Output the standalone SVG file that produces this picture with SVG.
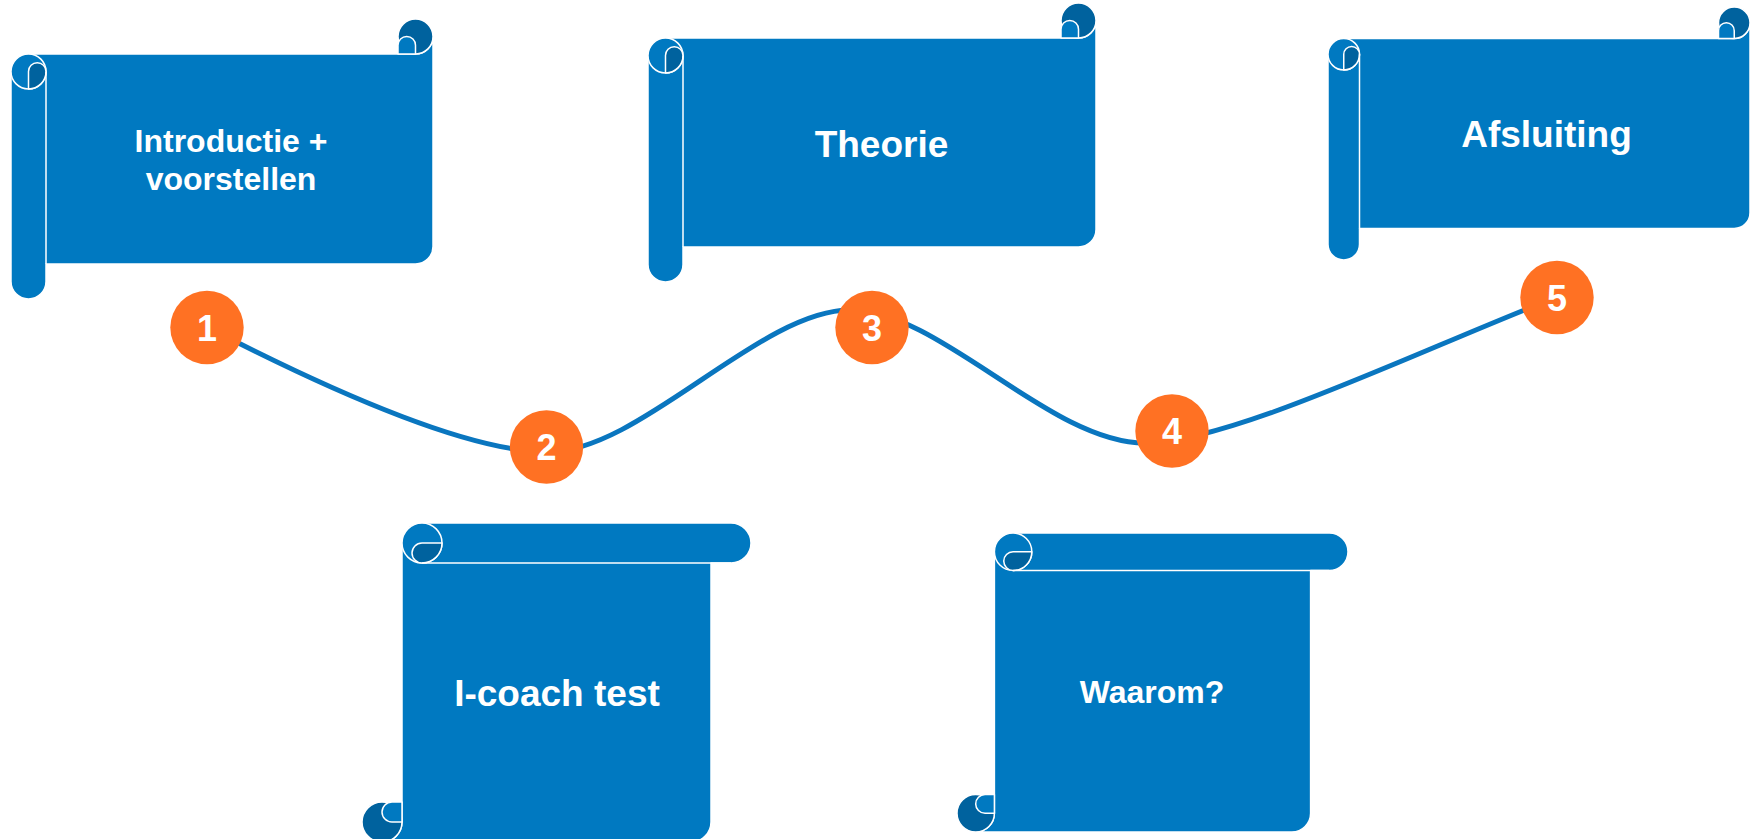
<svg xmlns="http://www.w3.org/2000/svg" width="1756" height="839" viewBox="0 0 1756 839">
<style>
.body{fill:#0079C1;stroke:#fff;stroke-width:1.5;stroke-linejoin:round}
.dark{fill:#00629E;stroke:#fff;stroke-width:1.5;stroke-linejoin:round}
.ln{fill:none;stroke:#fff;stroke-width:1.5}
.lbl{font-family:"Liberation Sans",Arial,sans-serif;font-weight:bold;fill:#fff;text-anchor:middle}
.num{fill:#FF7123}
.conn{fill:none;stroke:#0A76BF;stroke-width:5;stroke-linecap:round}
</style>
<rect width="1756" height="839" fill="#fff"/>
<g id="connectors">
<path class="conn" d="M 207,327 C 300,375 460,452 548,452 C 640,452 760,310 850,310 C 940,310 1050,443 1145,443 C 1230,443 1420,350 1557,297"/>
</g>
<g id="scroll-introductie">
<path class="body" d="M 11,71.5 A 17.5 17.5 0 0 1 28.5,54 L 415.5,54 A 17.5 17.5 0 0 0 433,36.5 L 433,246.5 A 17.5 17.5 0 0 1 415.5,264 L 46,264 L 46,281.5 A 17.5 17.5 0 0 1 11,281.5 Z"/>
<circle class="body" cx="28.5" cy="71.5" r="17.5"/>
<path class="dark" d="M 28.5,71.5 A 8.75 8.75 0 0 1 46,71.5 A 17.5 17.5 0 0 1 28.5,89 Z"/>
<path class="ln" d="M 46,71.5 V 264"/>
<circle class="dark" cx="415.5" cy="36.5" r="17.5"/>
<path class="body" d="M 398,54 V 45.25 A 8.75 8.75 0 0 1 415.5,45.25 V 54 Z"/>
<text class="lbl" x="231" y="152" font-size="32">Introductie +</text>
<text class="lbl" x="231" y="190" font-size="32">voorstellen</text>
</g>
<g id="scroll-theorie">
<path class="body" d="M 648,55.5 A 17.5 17.5 0 0 1 665.5,38 L 1078.5,38 A 17.5 17.5 0 0 0 1096,20.5 L 1096,229.5 A 17.5 17.5 0 0 1 1078.5,247 L 683,247 L 683,264.5 A 17.5 17.5 0 0 1 648,264.5 Z"/>
<circle class="body" cx="665.5" cy="55.5" r="17.5"/>
<path class="dark" d="M 665.5,55.5 A 8.75 8.75 0 0 1 683,55.5 A 17.5 17.5 0 0 1 665.5,73 Z"/>
<path class="ln" d="M 683,55.5 V 247"/>
<circle class="dark" cx="1078.5" cy="20.5" r="17.5"/>
<path class="body" d="M 1061,38 V 29.25 A 8.75 8.75 0 0 1 1078.5,29.25 V 38 Z"/>
<text class="lbl" x="881.5" y="157" font-size="37">Theorie</text>
</g>
<g id="scroll-afsluiting">
<path class="body" d="M 1328,54.25 A 15.75 15.75 0 0 1 1343.75,38.5 L 1734.25,38.5 A 15.75 15.75 0 0 0 1750,22.75 L 1750,212.75 A 15.75 15.75 0 0 1 1734.25,228.5 L 1359.5,228.5 L 1359.5,244.25 A 15.75 15.75 0 0 1 1328,244.25 Z"/>
<circle class="body" cx="1343.75" cy="54.25" r="15.75"/>
<path class="dark" d="M 1343.75,54.25 A 7.875 7.875 0 0 1 1359.5,54.25 A 15.75 15.75 0 0 1 1343.75,70 Z"/>
<path class="ln" d="M 1359.5,54.25 V 228.5"/>
<circle class="dark" cx="1734.25" cy="22.75" r="15.75"/>
<path class="body" d="M 1718.5,38.5 V 30.625 A 7.875 7.875 0 0 1 1734.25,30.625 V 38.5 Z"/>
<text class="lbl" x="1546.5" y="147" font-size="37">Afsluiting</text>
</g>
<g id="scroll-icoach">
<path class="body" d="M 422,523 L 731,523 A 20 20 0 0 1 731,563 L 711,563 L 711,822 A 20 20 0 0 1 691,842 L 382,842 A 20 20 0 0 0 402,822 L 402,543 A 20 20 0 0 1 422,523 Z"/>
<circle class="body" cx="422" cy="543" r="20"/>
<path class="dark" d="M 422,543 L 442,543 A 20 20 0 0 1 422,563 A 10 10 0 0 1 422,543 Z"/>
<path class="ln" d="M 422,563 H 731"/>
<circle class="dark" cx="382" cy="822" r="20"/>
<path class="body" d="M 402,802 H 392 A 10 10 0 0 0 392,822 H 402 Z"/>
<text class="lbl" x="557" y="706" font-size="37">I-coach test</text>
</g>
<g id="scroll-waarom">
<path class="body" d="M 1013.1,533 L 1329.3,533 A 18.7 18.7 0 0 1 1329.3,570.4 L 1310.6,570.4 L 1310.6,813.3 A 18.7 18.7 0 0 1 1291.9,832 L 975.7,832 A 18.7 18.7 0 0 0 994.4,813.3 L 994.4,551.7 A 18.7 18.7 0 0 1 1013.1,533 Z"/>
<circle class="body" cx="1013.1" cy="551.7" r="18.7"/>
<path class="dark" d="M 1013.1,551.7 L 1031.8,551.7 A 18.7 18.7 0 0 1 1013.1,570.4 A 9.35 9.35 0 0 1 1013.1,551.7 Z"/>
<path class="ln" d="M 1013.1,570.4 H 1329.3"/>
<circle class="dark" cx="975.7" cy="813.3" r="18.7"/>
<path class="body" d="M 994.4,794.6 H 985.05 A 9.35 9.35 0 0 0 985.05,813.3 H 994.4 Z"/>
<text class="lbl" x="1152" y="703" font-size="32">Waarom?</text>
</g>
<g id="step-1"><circle class="num" cx="207" cy="327.5" r="36.7"/><text class="lbl" x="207" y="340.5" font-size="36">1</text></g>
<g id="step-2"><circle class="num" cx="546.5" cy="447" r="36.7"/><text class="lbl" x="546.5" y="460" font-size="36">2</text></g>
<g id="step-3"><circle class="num" cx="872" cy="327.5" r="36.7"/><text class="lbl" x="872" y="340.5" font-size="36">3</text></g>
<g id="step-4"><circle class="num" cx="1172" cy="431" r="36.7"/><text class="lbl" x="1172" y="444" font-size="36">4</text></g>
<g id="step-5"><circle class="num" cx="1557" cy="297.5" r="36.7"/><text class="lbl" x="1557" y="310.5" font-size="36">5</text></g>
</svg>
